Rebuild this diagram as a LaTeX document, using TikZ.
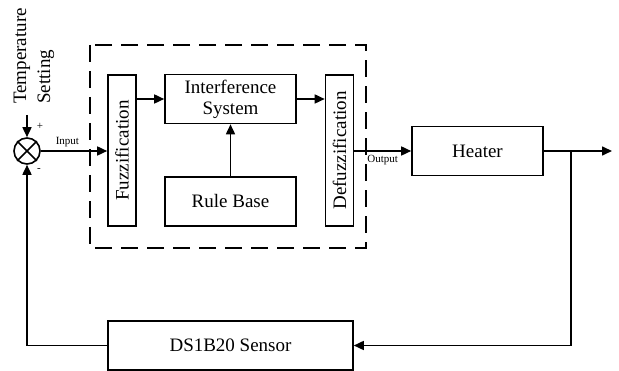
\documentclass[tikz,border=0pt]{standalone}
\usepackage{fontspec}
\setmainfont{Liberation Serif}
\usetikzlibrary{arrows.meta, positioning}

\begin{document}
\begin{tikzpicture}[x=1pt, y=-1pt,
    block/.style={draw, line width=1.6pt, minimum width=131pt, minimum height=49pt,
      inner sep=0pt, align=center, font=\fontsize{19}{21}\selectfont},
    vblock/.style={draw, line width=1.6pt, minimum width=151pt, minimum height=28pt,
      inner sep=0pt, rotate=90, font=\fontsize{19}{21}\selectfont},
    flow/.style={line width=1.6pt, -{Triangle[length=10pt, width=9pt]}},
    wire/.style={line width=1.6pt},
    tag/.style={font=\fontsize{11}{12}\selectfont, inner sep=1pt}]
  \useasboundingbox (0,0) rectangle (619,371);

  % summing point and set value
  \node[circle, draw, line width=1.6pt, minimum size=26pt, inner sep=0pt] (sum) at (27,151) {};
  \draw[wire] (sum.north west) -- (sum.south east);
  \draw[wire] (sum.north east) -- (sum.south west);
  \node[rotate=90, anchor=west, align=left, inner sep=0pt,
    font=\fontsize{19}{24}\selectfont] (setting) at (34,104) {Temperature\\Setting};
  \coordinate (setin) at (27,115);
  \node[tag] (plus) at (40,126) {+};
  \node[tag] (minus) at (39,170) {-};

  % fuzzy controller
  \draw[line width=1.6pt, dash pattern=on 17pt off 9pt] (90,45) rectangle (366,248);
  \node[vblock] (fuzz) at (122,150.5) {Fuzzification};
  \node[block] (infer) at (230.5,99) {Interference\\System};
  \node[block] (rule) at (230.5,201.5) {Rule Base};
  \node[vblock] (defuzz) at (339.5,150.5) {Defuzzification};

  % plant and feedback
  \node[block] (heater) at (477.5,151) {Heater};
  \node[block, minimum width=245pt] (sensor) at (230.5,345.5) {DS1B20 Sensor};
  \coordinate (tap) at (571,151);
  \coordinate (out) at (612,151);

  \draw[flow] (setin) -- (sum.north);
  \draw[flow] (sum.east) -- node[tag, above=2pt, pos=0.4] (input) {Input} (fuzz.north |- sum.east);
  \draw[flow] (fuzz.south |- infer.west) -- (infer.west);
  \draw[flow] (rule.north) -- (infer.south);
  \draw[flow] (infer.east) -- (defuzz.north |- infer.east);
  \draw[flow] (defuzz.south |- heater.west) -- node[tag, below=2pt] (output) {Output} (heater.west);
  \draw[flow] (heater.east) -- (out);
  \draw[flow] (tap) |- (sensor.east);
  \draw[flow] (sensor.west) -| (sum.south);
\end{tikzpicture}
\end{document}
